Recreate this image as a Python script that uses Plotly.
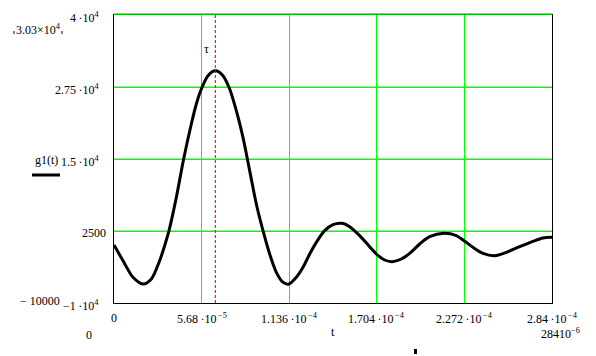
import plotly.graph_objects as go

# curve samples (t in microseconds, g1 value)
t_us = [0, 5.84, 12.32, 18.80, 24.21, 29.61, 32.85, 35.66, 40.42, 45.17, 50.14, 53.38,
        56.63, 60.95, 65.70, 70.67, 75.0, 79.32, 83.64, 87.97, 92.29, 96.61, 100.93,
        105.26, 109.58, 113.47, 118.22, 122.55, 126.87, 131.19, 136.59, 142.0, 147.83,
        152.8, 159.29, 165.77, 170.09, 175.5, 180.47, 186.3, 191.71, 198.19, 204.68,
        213.97, 221.97, 226.94, 232.77, 239.26, 246.82, 254.39, 263.03, 271.68, 278.16, 284.0]
g1 = [70, -2650, -5544, -6701, -5833, -2650, -46, 2558, 8345, 15000, 21076, 24549,
      27153, 29468, 30300, 29468, 27153, 23391, 18762, 12975, 7188, 2558, -1493,
      -4676, -6412, -6701, -5544, -3808, -1493, 533, 2558, 3600, 3832,
      3253, 1690, -220, -1493, -2535, -2824, -2361, -1377, 243, 1516,
      2095, 1690, 822, -336, -1377, -1782, -1203, -220, 706, 1285, 1400]

x_ticks = [0, 5.68e-5, 1.136e-4, 1.704e-4, 2.272e-4, 2.84e-4]
x_tick_text = ["0", "5.68\u2009·10<sup>\u2009−5</sup>", "1.136\u2009·10<sup>\u2009−4</sup>",
               "1.704\u2009·10<sup>\u2009−4</sup>", "2.272\u2009·10<sup>\u2009−4</sup>",
               "2.84\u2009·10<sup>\u2009−4</sup>"]
y_ticks = [-10000, 2500, 15000, 27500, 40000]
y_tick_text = ["−1\u2009·10<sup>4</sup>", "2500", "1.5\u2009·10<sup>4</sup>",
               "2.75\u2009·10<sup>4</sup>", "4\u2009·10<sup>4</sup>"]
tau = 6.57e-5
g_max_text = "3.03×10<sup>4</sup>"

t = [v * 1e-6 for v in t_us]
FONT = "Liberation Serif"
GREEN = "#00ff00"
PW, PH = 438.0, 288.0  # plot area size in px, for pixel-offset decorations

fig = go.Figure()
fig.add_trace(go.Scatter(x=t, y=g1, mode="lines",
                         line=dict(color="black", width=3, shape="spline", smoothing=0.8),
                         showlegend=False, hoverinfo="skip"))

# horizontal green grid lines (inner ones)
for v in y_ticks[1:-1]:
    fig.add_shape(type="line", xref="paper", yref="y", x0=0, x1=1, y0=v, y1=v,
                  layer="below", line=dict(color=GREEN, width=1))
# green line on top border
fig.add_shape(type="line", xref="paper", yref="paper", x0=0, x1=1, y0=1 + 1 / PH, y1=1 + 1 / PH,
              line=dict(color=GREEN, width=1.5))

fig.add_shape(type="line", x0=tau, x1=tau, y0=-10000, y1=40000, xref="x", yref="y",
              line=dict(color="#dd0000", width=1, dash="3px,2px"))

ann = []
for v, s in zip(x_ticks, x_tick_text):
    ann.append(dict(x=v, y=0, xref="x", yref="paper", text=s, showarrow=False,
                    xanchor="center", yanchor="top", yshift=-6))
for v, s in zip(y_ticks, y_tick_text):
    ann.append(dict(x=0, y=v, xref="paper", yref="y", text=s, showarrow=False,
                    xanchor="right", yanchor="middle", xshift=-6 if s == "2500" else -13, yshift=-2))
ann += [
    dict(x=0, y=-10000, xref="paper", yref="y", text="− 10000", showarrow=False,
         xanchor="right", yanchor="middle", xshift=-52, yshift=2),
    dict(x=0, y=15000, xref="paper", yref="y", text="g1(t)", showarrow=False,
         xanchor="right", yanchor="middle", xshift=-54, yshift=-1),
    dict(x=0, y=40000, xref="paper", yref="y", text=g_max_text, showarrow=False,
         xanchor="right", yanchor="middle", xshift=-51, yshift=-14),
    dict(x=tau, y=40000, xref="x", yref="y", text="τ", showarrow=False,
         xanchor="center", yanchor="middle", xshift=-9, yshift=-34),
    dict(x=0, y=0, xref="paper", yref="paper", text="0", showarrow=False,
         xanchor="center", yanchor="middle", xshift=-25, yshift=-32),
    dict(x=1.42e-4, y=0, xref="x", yref="paper", text="t", showarrow=False,
         xanchor="center", yanchor="middle", xshift=0, yshift=-29),
    dict(x=1, y=0, xref="paper", yref="paper", text="28410<sup>−6</sup>", showarrow=False,
         xanchor="center", yanchor="middle", xshift=8, yshift=-30),
]
fig.update_layout(annotations=ann)

# legend line sample
fig.add_shape(type="line", xref="paper", yref="paper", x0=-82 / PW, x1=-54 / PW,
              y0=(303 - 175) / PH, y1=(303 - 175) / PH, line=dict(color="black", width=3))
# small marks around the max label
for px in (14, 62):
    fig.add_shape(type="line", xref="paper", yref="paper", x0=(px - 114) / PW, x1=(px - 114) / PW,
                  y0=(303 - 34) / PH, y1=(303 - 31) / PH, line=dict(color="black", width=1))
# small black mark below the axis
fig.add_shape(type="rect", xref="paper", yref="paper", x0=300 / PW, x1=303 / PW,
              y0=-51 / PH, y1=-46 / PH, fillcolor="black", line=dict(width=0))

fig.update_xaxes(range=[0, 2.84e-4], tickvals=x_ticks, showticklabels=False, showgrid=True,
                 gridcolor=GREEN, gridwidth=1, zeroline=False, showline=True, linecolor="black",
                 linewidth=1, mirror=True, ticks="")
fig.update_yaxes(range=[-10000, 40000], tickvals=y_ticks, showticklabels=False, showgrid=True,
                 gridcolor=GREEN, gridwidth=1, zeroline=False, showline=True, linecolor="black",
                 linewidth=1, mirror=True, ticks="")
fig.update_layout(width=596, height=356, margin=dict(l=114, r=44, t=15, b=53),
                  paper_bgcolor="white", plot_bgcolor="white",
                  font=dict(family=FONT, size=12, color="black"))
fig.write_html("out.html")
